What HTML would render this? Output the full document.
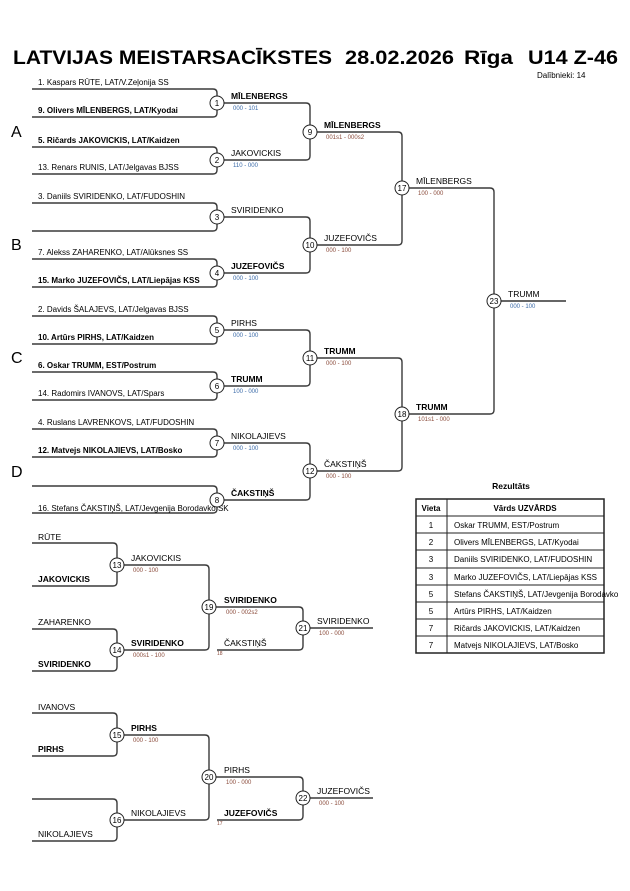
<!DOCTYPE html>
<html><head><meta charset="utf-8"><style>
html,body{margin:0;padding:0;background:#fff;}
svg{display:block;font-family:"Liberation Sans",Arial,sans-serif;}
.l{fill:none;stroke:#3a3a3a;stroke-width:1.4;}
.c{fill:#fff;stroke:#222;stroke-width:1;}
.n{font-size:8px;fill:#000;}
.b{font-weight:bold;}
.w{font-size:8.5px;fill:#000;}
.s{font-size:6px;}
.bl{fill:#3a6aa8;}
.br{fill:#8a4a3a;}
.cn{font-size:8px;text-anchor:middle;}
.t{font-size:8px;}
</style></head><body>
<svg width="630" height="891" viewBox="0 0 630 891" xmlns="http://www.w3.org/2000/svg">
<g font-size="19.5" font-weight="bold">
<text x="13" y="64" textLength="319" lengthAdjust="spacingAndGlyphs">LATVIJAS MEISTARSACĪKSTES</text>
<text x="345" y="64" textLength="109" lengthAdjust="spacingAndGlyphs">28.02.2026</text>
<text x="464" y="64" textLength="49" lengthAdjust="spacingAndGlyphs">Rīga</text>
<text x="528" y="64" textLength="90" lengthAdjust="spacingAndGlyphs">U14 Z-46</text>
</g>
<text x="537" y="78" font-size="8">Dalībnieki: 14</text>
<g font-size="16"><text x="11" y="137">A</text><text x="11" y="250">B</text><text x="11" y="363">C</text><text x="11" y="477">D</text></g>

<g class="l">
<path d="M32 89H213Q217 89 217 93V113Q217 117 213 117H32"/>
<path d="M32 147H213Q217 147 217 151V170Q217 174 213 174H32"/>
<path d="M32 203H213Q217 203 217 207V227Q217 231 213 231H32"/>
<path d="M32 259H213Q217 259 217 263V283Q217 287 213 287H32"/>
<path d="M32 316H213Q217 316 217 320V340Q217 344 213 344H32"/>
<path d="M32 372H213Q217 372 217 376V396Q217 400 213 400H32"/>
<path d="M32 429H213Q217 429 217 433V453Q217 457 213 457H32"/>
<path d="M32 486H213Q217 486 217 490V509Q217 513 213 513H32"/>
<path d="M217 103H306Q310 103 310 107V156Q310 160 306 160H217"/>
<path d="M217 217H306Q310 217 310 221V269Q310 273 306 273H217"/>
<path d="M217 330H306Q310 330 310 334V382Q310 386 306 386H217"/>
<path d="M217 443H306Q310 443 310 447V496Q310 500 306 500H217"/>
<path d="M310 132H398Q402 132 402 136V241Q402 245 398 245H310"/>
<path d="M310 358H398Q402 358 402 362V467Q402 471 398 471H310"/>
<path d="M402 188H490Q494 188 494 192V410Q494 414 490 414H402"/>
<path d="M494 301H566" stroke="#666" stroke-width="2"/>
<path d="M32 543H113Q117 543 117 547V582Q117 586 113 586H32"/>
<path d="M32 629H113Q117 629 117 633V667Q117 671 113 671H32"/>
<path d="M117 565H205Q209 565 209 569V646Q209 650 205 650H117"/>
<path d="M209 607H299Q303 607 303 611V646Q303 650 299 650H217"/>
<path d="M303 628H373"/>
<path d="M32 713H113Q117 713 117 717V752Q117 756 113 756H32"/>
<path d="M32 799H113Q117 799 117 803V837Q117 841 113 841H32"/>
<path d="M117 735H205Q209 735 209 739V816Q209 820 205 820H117"/>
<path d="M209 777H299Q303 777 303 781V816Q303 820 299 820H217"/>
<path d="M303 798H373"/>
</g>

<g class="n">
<text x="38" y="85">1. Kaspars RŪTE, LAT/V.Zeļonija SS</text>
<text x="38" y="113" class="b">9. Olivers MĪLENBERGS, LAT/Kyodai</text>
<text x="38" y="143" class="b">5. Ričards JAKOVICKIS, LAT/Kaidzen</text>
<text x="38" y="170">13. Renars RUNIS, LAT/Jelgavas BJSS</text>
<text x="38" y="199">3. Daniils SVIRIDENKO, LAT/FUDOSHIN</text>
<text x="38" y="255">7. Alekss ZAHARENKO, LAT/Alūksnes SS</text>
<text x="38" y="283" class="b">15. Marko JUZEFOVIČS, LAT/Liepājas KSS</text>
<text x="38" y="312">2. Davids ŠALAJEVS, LAT/Jelgavas BJSS</text>
<text x="38" y="340" class="b">10. Artūrs PIRHS, LAT/Kaidzen</text>
<text x="38" y="368" class="b">6. Oskar TRUMM, EST/Postrum</text>
<text x="38" y="396">14. Radomirs IVANOVS, LAT/Spars</text>
<text x="38" y="425">4. Ruslans LAVRENKOVS, LAT/FUDOSHIN</text>
<text x="38" y="453" class="b">12. Matvejs NIKOLAJIEVS, LAT/Bosko</text>
<text x="38" y="511">16. Stefans ČAKSTIŅŠ, LAT/Jevgenija Borodavko SK</text>
</g>

<g class="w">
<text x="231" y="99" class="b">MĪLENBERGS</text>
<text x="231" y="156">JAKOVICKIS</text>
<text x="231" y="213">SVIRIDENKO</text>
<text x="231" y="269" class="b">JUZEFOVIČS</text>
<text x="231" y="326">PIRHS</text>
<text x="231" y="382" class="b">TRUMM</text>
<text x="231" y="439">NIKOLAJIEVS</text>
<text x="231" y="496" class="b">ČAKSTIŅŠ</text>
<text x="324" y="128" class="b">MĪLENBERGS</text>
<text x="324" y="241">JUZEFOVIČS</text>
<text x="324" y="354" class="b">TRUMM</text>
<text x="324" y="467">ČAKSTIŅŠ</text>
<text x="416" y="184">MĪLENBERGS</text>
<text x="416" y="410" class="b">TRUMM</text>
<text x="508" y="297">TRUMM</text>
<text x="38" y="540">RŪTE</text>
<text x="38" y="582" class="b">JAKOVICKIS</text>
<text x="38" y="625">ZAHARENKO</text>
<text x="38" y="667" class="b">SVIRIDENKO</text>
<text x="131" y="561">JAKOVICKIS</text>
<text x="131" y="646" class="b">SVIRIDENKO</text>
<text x="224" y="603" class="b">SVIRIDENKO</text>
<text x="224" y="646">ČAKSTIŅŠ</text>
<text x="317" y="624">SVIRIDENKO</text>
<text x="38" y="710">IVANOVS</text>
<text x="38" y="752" class="b">PIRHS</text>
<text x="38" y="837">NIKOLAJIEVS</text>
<text x="131" y="731" class="b">PIRHS</text>
<text x="131" y="816">NIKOLAJIEVS</text>
<text x="224" y="773">PIRHS</text>
<text x="224" y="816" class="b">JUZEFOVIČS</text>
<text x="317" y="794">JUZEFOVIČS</text>
</g>

<g class="s">
<text x="233" y="110" class="bl">000 - 101</text>
<text x="233" y="167" class="bl">110 - 000</text>
<text x="233" y="280" class="bl">000 - 100</text>
<text x="233" y="337" class="bl">000 - 100</text>
<text x="233" y="393" class="bl">100 - 000</text>
<text x="233" y="450" class="bl">000 - 100</text>
<text x="326" y="139" class="br">001s1 - 000s2</text>
<text x="326" y="252" class="br">000 - 100</text>
<text x="326" y="365" class="br">000 - 100</text>
<text x="326" y="478" class="br">000 - 100</text>
<text x="418" y="195" class="br">100 - 000</text>
<text x="418" y="421" class="br">101s1 - 000</text>
<text x="510" y="308" class="bl">000 - 100</text>
<text x="133" y="572" class="br">000 - 100</text>
<text x="133" y="657" class="br">000s1 - 100</text>
<text x="226" y="614" class="br">000 - 002s2</text>
<text x="217" y="655" class="br" font-size="5">18</text>
<text x="319" y="635" class="br">100 - 000</text>
<text x="133" y="742" class="br">000 - 100</text>
<text x="226" y="784" class="br">100 - 000</text>
<text x="217" y="825" class="br" font-size="5">17</text>
<text x="319" y="805" class="br">000 - 100</text>
</g>

<g>
<circle class="c" cx="217" cy="103" r="7"/><circle class="c" cx="217" cy="160" r="7"/>
<circle class="c" cx="217" cy="217" r="7"/><circle class="c" cx="217" cy="273" r="7"/>
<circle class="c" cx="217" cy="330" r="7"/><circle class="c" cx="217" cy="386" r="7"/>
<circle class="c" cx="217" cy="443" r="7"/><circle class="c" cx="217" cy="500" r="7"/>
<circle class="c" cx="310" cy="132" r="7"/><circle class="c" cx="310" cy="245" r="7"/>
<circle class="c" cx="310" cy="358" r="7"/><circle class="c" cx="310" cy="471" r="7"/>
<circle class="c" cx="402" cy="188" r="7"/><circle class="c" cx="402" cy="414" r="7"/>
<circle class="c" cx="494" cy="301" r="7"/>
<circle class="c" cx="117" cy="565" r="7"/><circle class="c" cx="117" cy="650" r="7"/>
<circle class="c" cx="209" cy="607" r="7"/><circle class="c" cx="303" cy="628" r="7"/>
<circle class="c" cx="117" cy="735" r="7"/><circle class="c" cx="117" cy="820" r="7"/>
<circle class="c" cx="209" cy="777" r="7"/><circle class="c" cx="303" cy="798" r="7"/>
</g>
<g class="cn">
<text x="217" y="106">1</text><text x="217" y="163">2</text><text x="217" y="220">3</text><text x="217" y="276">4</text>
<text x="217" y="333">5</text><text x="217" y="389">6</text><text x="217" y="446">7</text><text x="217" y="503">8</text>
<text x="310" y="135">9</text><text x="310" y="248">10</text><text x="310" y="361">11</text><text x="310" y="474">12</text>
<text x="402" y="191">17</text><text x="402" y="417">18</text><text x="494" y="304">23</text>
<text x="117" y="568">13</text><text x="117" y="653">14</text><text x="209" y="610">19</text><text x="303" y="631">21</text>
<text x="117" y="738">15</text><text x="117" y="823">16</text><text x="209" y="780">20</text><text x="303" y="801">22</text>
</g>

<text x="511" y="489" font-size="8.5" font-weight="bold" text-anchor="middle">Rezultāts</text>
<g stroke="#222" stroke-width="1" fill="none">
<rect x="416" y="499" width="188" height="154" stroke-width="1.5"/>
<line x1="447" y1="499" x2="447" y2="653"/>
<line x1="416" y1="516" x2="604" y2="516"/>
<line x1="416" y1="533" x2="604" y2="533"/>
<line x1="416" y1="550" x2="604" y2="550"/>
<line x1="416" y1="568" x2="604" y2="568"/>
<line x1="416" y1="585" x2="604" y2="585"/>
<line x1="416" y1="602" x2="604" y2="602"/>
<line x1="416" y1="619" x2="604" y2="619"/>
<line x1="416" y1="636" x2="604" y2="636"/>
</g>
<g class="t">
<text x="431" y="511" text-anchor="middle" font-weight="bold">Vieta</text>
<text x="525" y="511" text-anchor="middle" font-weight="bold">Vārds UZVĀRDS</text>
<text x="431" y="528" text-anchor="middle">1</text><text x="454" y="528">Oskar TRUMM, EST/Postrum</text>
<text x="431" y="545" text-anchor="middle">2</text><text x="454" y="545">Olivers MĪLENBERGS, LAT/Kyodai</text>
<text x="431" y="562" text-anchor="middle">3</text><text x="454" y="562">Daniils SVIRIDENKO, LAT/FUDOSHIN</text>
<text x="431" y="580" text-anchor="middle">3</text><text x="454" y="580">Marko JUZEFOVIČS, LAT/Liepājas KSS</text>
<text x="431" y="597" text-anchor="middle">5</text><text x="454" y="597">Stefans ČAKSTIŅŠ, LAT/Jevgenija Borodavko</text>
<text x="431" y="614" text-anchor="middle">5</text><text x="454" y="614">Artūrs PIRHS, LAT/Kaidzen</text>
<text x="431" y="631" text-anchor="middle">7</text><text x="454" y="631">Ričards JAKOVICKIS, LAT/Kaidzen</text>
<text x="431" y="648" text-anchor="middle">7</text><text x="454" y="648">Matvejs NIKOLAJIEVS, LAT/Bosko</text>
</g>
</svg>
</body></html>
